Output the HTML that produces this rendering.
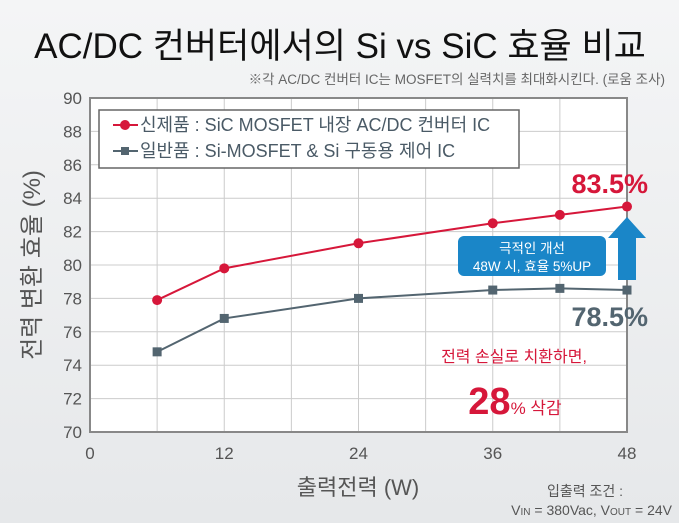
<!DOCTYPE html>
<html><head><meta charset="utf-8"><style>
body{margin:0;width:679px;height:523px;overflow:hidden;background:linear-gradient(#f4f5f6,#e6e8ea);font-family:"Liberation Sans","Noto Sans CJK KR",sans-serif;}
svg{position:absolute;left:0;top:0}
</style></head><body>
<svg width="679" height="523" font-family="Liberation Sans, Noto Sans CJK KR, sans-serif">
<text x="340" y="58" text-anchor="middle" font-size="35" fill="#111">AC/DC 컨버터에서의 Si vs SiC 효율 비교</text>
<text x="665" y="84" text-anchor="end" font-size="13.5" fill="#666">※각 AC/DC 컨버터 IC는 MOSFET의 실력치를 최대화시킨다. (로움 조사)</text>
<g id="plot"></g>
<text x="40" y="265" text-anchor="middle" font-size="24" fill="#555" transform="rotate(-90 40 265)">전력 변환 효율 (%)</text>
<text x="358" y="495" text-anchor="middle" font-size="22" fill="#555">출력전력 (W)</text>
<text x="585" y="496" text-anchor="middle" font-size="14" fill="#555">입출력 조건 :</text>
<text x="672" y="515" text-anchor="end" font-size="14" fill="#555">V<tspan font-size="10">IN</tspan> = 380Vac, V<tspan font-size="10">OUT</tspan> = 24V</text>
</svg>
<script>
const categories=[6,12,24,36,42,48];
const sicValues=[77.9,79.8,81.3,82.5,83.0,83.5];
const siValues=[74.8,76.8,78.0,78.5,78.6,78.5];
const xTicks=[0,12,24,36,48];
const yTicks=[70,72,74,76,78,80,82,84,86,88,90];
const NS='http://www.w3.org/2000/svg';
const X0=90,X1=627,Y0=432,Y1=98;
const xs=v=>X0+(v-0)/48*(X1-X0);
const ys=v=>Y0-(v-70)/20*(Y0-Y1);
const g=document.getElementById('plot');
function mk(t,a){const e=document.createElementNS(NS,t);for(const k in a)e.setAttribute(k,a[k]);g.appendChild(e);return e;}
let r=mk('rect',{x:X0,y:Y1,width:X1-X0,height:Y0-Y1,fill:'#fff',stroke:'none'});


for(let v=0;v<=48;v+=6){let l=mk('line',{x1:xs(v),x2:xs(v),y1:Y1,y2:Y0,stroke:'#ccc','stroke-width':1});

}
yTicks.forEach(v=>{let l=mk('line',{x1:X0,x2:X1,y1:ys(v),y2:ys(v),stroke:'#ccc','stroke-width':1});


let t=mk('text',{x:X0-8,y:ys(v)+6,'text-anchor':'end','font-size':17,fill:'#555'});t.textContent=v;

});
xTicks.forEach(v=>{let t=mk('text',{x:xs(v),y:Y0+27,'text-anchor':'middle','font-size':17,fill:'#555'});t.textContent=v;

});
let b=mk('rect',{x:X0,y:Y1,width:X1-X0,height:Y0-Y1,fill:'none',stroke:'#888','stroke-width':2});


function series(vals,color,shape,name){
 let p=mk('polyline',{points:categories.map((c,i)=>xs(c)+','+ys(vals[i])).join(' '),fill:'none',stroke:color,'stroke-width':2});
 
 
 categories.forEach((c,i)=>{let m;
  if(shape==='c')m=mk('circle',{cx:xs(c),cy:ys(vals[i]),r:5,fill:color});
  else m=mk('rect',{x:xs(c)-4.5,y:ys(vals[i])-4.5,width:9,height:9,fill:color});
  
  });
}
series(siValues,'#536570','s','si-series');
series(sicValues,'#d6173a','c','sic-series');
let lg=mk('rect',{x:99,y:110,width:420,height:58,fill:'#fff',stroke:'#666','stroke-width':1.5});


let a1=mk('line',{x1:113,x2:138,y1:125,y2:125,stroke:'#d6173a','stroke-width':2});


let a2=mk('circle',{cx:125,cy:125,r:5,fill:'#d6173a'});


let t1=mk('text',{x:140,y:131,'font-size':18,fill:'#4a5a66'});t1.textContent='신제품 : SiC MOSFET 내장 AC/DC 컨버터 IC';


let a3=mk('line',{x1:113,x2:138,y1:151,y2:151,stroke:'#536570','stroke-width':2});


let a4=mk('rect',{x:121,y:147,width:8,height:8,fill:'#536570'});


let t2=mk('text',{x:140,y:157,'font-size':18,fill:'#4a5a66'});t2.textContent='일반품 : Si-MOSFET & Si 구동용 제어 IC';


let h1=mk('text',{x:648,y:193,'text-anchor':'end','font-size':27,'font-weight':'bold',fill:'#d6173a'});h1.textContent='83.5%';


let h2=mk('text',{x:648,y:326,'text-anchor':'end','font-size':27,'font-weight':'bold',fill:'#536570'});h2.textContent='78.5%';


let ar=mk('polygon',{points:'627,217 646,238 636,238 636,280 618,280 618,238 608,238',fill:'#1a86c8'});


let bx=mk('rect',{x:458,y:236,width:148,height:40,rx:6,fill:'#1a86c8'});


let b1=mk('text',{x:532,y:253,'text-anchor':'middle','font-size':13.5,fill:'#fff'});b1.textContent='극적인 개선';


let b2=mk('text',{x:532,y:271,'text-anchor':'middle','font-size':13.5,fill:'#fff'});b2.textContent='48W 시, 효율 5%UP';


let c1=mk('text',{x:514,y:362,'text-anchor':'middle','font-size':16,fill:'#d6173a'});c1.textContent='전력 손실로 치환하면,';


let c2=mk('text',{x:515,y:414,'text-anchor':'middle',fill:'#d6173a'});
c2.innerHTML='<tspan font-size="38" font-weight="bold">28</tspan><tspan font-size="17">% 삭감</tspan>';


</script>
</body></html>
